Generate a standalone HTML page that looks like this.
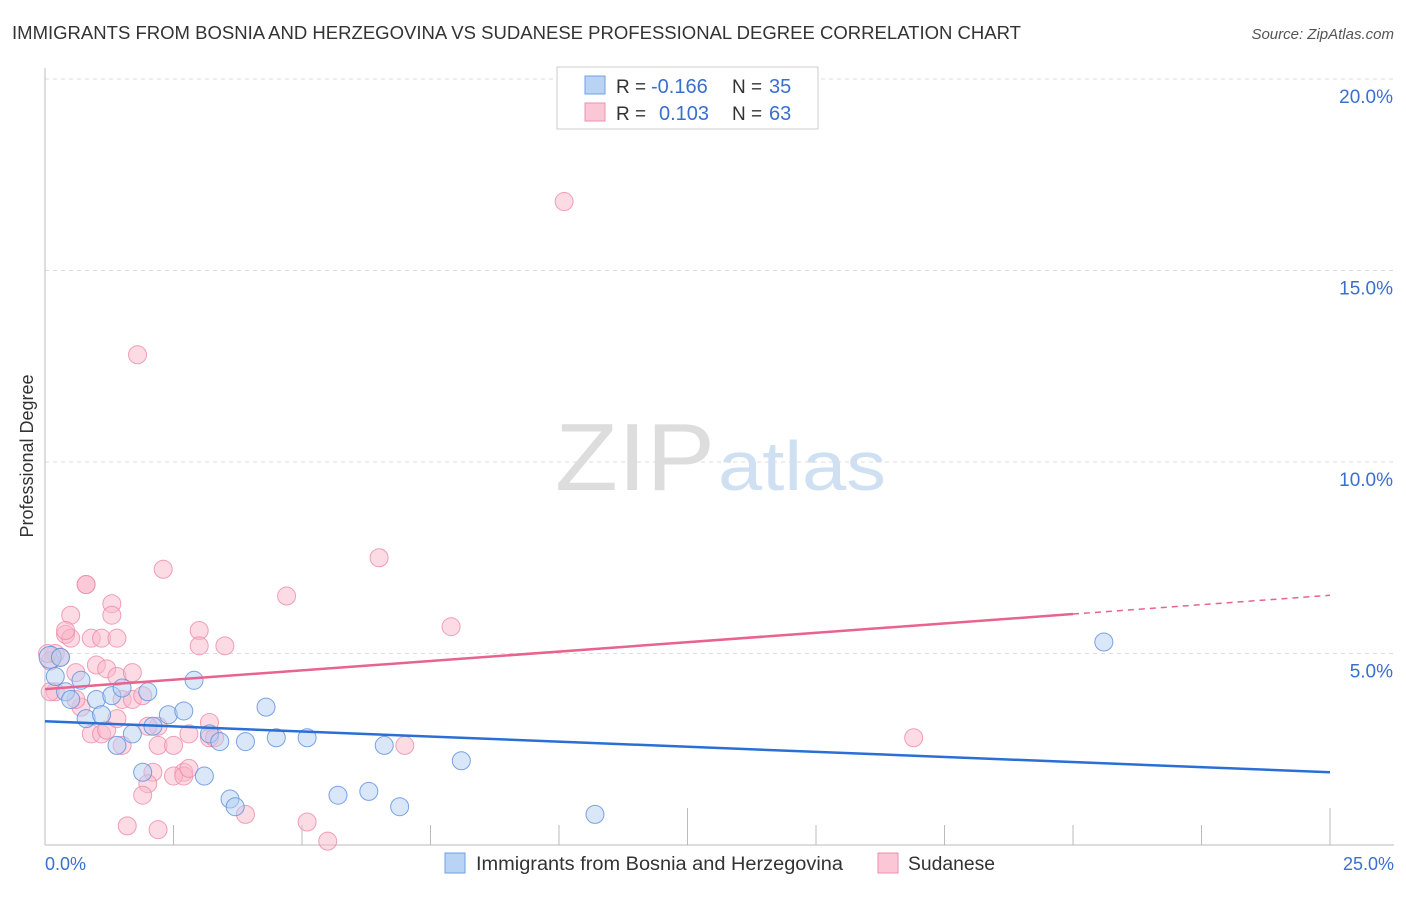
<!DOCTYPE html>
<html><head><meta charset="utf-8"><style>
body{margin:0;background:#fff;font-family:"Liberation Sans",sans-serif;}
svg text{font-family:"Liberation Sans",sans-serif;}
</style></head><body>
<svg width="1406" height="892">
<text x="12" y="39" font-size="18" fill="#333" textLength="1009" lengthAdjust="spacingAndGlyphs">IMMIGRANTS FROM BOSNIA AND HERZEGOVINA VS SUDANESE PROFESSIONAL DEGREE CORRELATION CHART</text>
<text x="1394" y="39" font-size="15" fill="#555" font-style="italic" text-anchor="end">Source: ZipAtlas.com</text>
<text x="555" y="490" font-size="96" fill="#ddd" font-family="Liberation Serif" textLength="160" lengthAdjust="spacingAndGlyphs">ZIP</text>
<text x="718" y="490" font-size="70" fill="#cfe0f3" textLength="168" lengthAdjust="spacingAndGlyphs">atlas</text>
<g id="grid"></g>
<g id="axes"></g>
<g id="pts"></g>
<g id="trend"></g>
<text transform="translate(33,456) rotate(-90)" font-size="18" fill="#333" text-anchor="middle">Professional Degree</text>
<text x="45" y="870" font-size="18" fill="#3a6fd0">0.0%</text>
<text x="1394" y="870" font-size="18" fill="#3a6fd0" text-anchor="end">25.0%</text>
<g>
<rect x="557" y="67" width="261" height="62" fill="#fff" stroke="#ccc"/>
<rect x="585" y="76" width="20" height="18" fill="#b9d3f5" stroke="#6f9fe0"/>
<rect x="585" y="103" width="20" height="18" fill="#fbc6d5" stroke="#ee90ac"/>
<text x="616" y="93" font-size="19" fill="#333">R =</text>
<text x="651" y="93" font-size="20" fill="#3a6fd0">-0.166</text>
<text x="732" y="93" font-size="19" fill="#333">N =</text>
<text x="769" y="93" font-size="20" fill="#3a6fd0">35</text>
<text x="616" y="120" font-size="19" fill="#333">R =</text>
<text x="659" y="120" font-size="20" fill="#3a6fd0">0.103</text>
<text x="732" y="120" font-size="19" fill="#333">N =</text>
<text x="769" y="120" font-size="20" fill="#3a6fd0">63</text>
</g>
<g>
<rect x="445" y="853" width="20" height="20" fill="#b9d3f5" stroke="#6f9fe0"/>
<text x="476" y="870" font-size="19" fill="#333" textLength="367" lengthAdjust="spacingAndGlyphs">Immigrants from Bosnia and Herzegovina</text>
<rect x="878" y="853" width="20" height="20" fill="#fbc6d5" stroke="#ee90ac"/>
<text x="908" y="870" font-size="19" fill="#333" textLength="87" lengthAdjust="spacingAndGlyphs">Sudanese</text>
</g>
</svg>
<script>
const yTicks=[5,10,15,20];
const yTickLabels=["5.0%","10.0%","15.0%","20.0%"];
const xTicks=[0,2.5,5,7.5,10,12.5,15,17.5,20,22.5,25];
const blueX=[0.1,0.2,0.4,0.7,0.5,0.8,1.0,1.1,1.3,1.4,1.5,1.7,2.0,1.9,2.1,2.4,2.7,2.9,3.1,3.2,3.4,3.6,3.7,3.9,4.3,4.5,5.1,5.7,6.3,6.6,6.9,8.1,10.7,20.6,0.3];
const blueY=[4.9,4.4,4.0,4.3,3.8,3.3,3.8,3.4,3.9,2.6,4.1,2.9,4.0,1.9,3.1,3.4,3.5,4.3,1.8,2.9,2.7,1.2,1.0,2.7,3.6,2.8,2.8,1.3,1.4,2.6,1.0,2.2,0.8,5.3,4.9];
const pinkX=[1.8,10.1,6.5,2.3,0.8,0.8,1.3,1.3,0.5,0.4,0.5,0.9,1.1,1.4,3.0,3.0,3.5,4.7,7.9,0.2,0.3,0.1,0.2,0.6,0.7,1.0,1.2,1.4,1.7,1.5,1.7,1.9,0.9,1.1,1.2,1.4,1.5,2.2,2.2,2.5,2.8,3.2,3.2,3.3,2.7,2.5,2.7,2.1,2.0,1.9,1.6,2.2,3.9,5.1,5.5,7.0,16.9,0.6,0.1,0.05,2.0,0.4,2.8];
const pinkY=[12.8,16.8,7.5,7.2,6.8,6.8,6.3,6.0,6.0,5.5,5.4,5.4,5.4,5.4,5.6,5.2,5.2,6.5,5.7,5.0,4.9,4.8,4.0,4.5,3.6,4.7,4.6,4.4,4.5,3.8,3.8,3.9,2.9,2.9,3.0,3.3,2.6,3.1,2.6,2.6,2.9,3.2,2.8,2.8,1.9,1.8,1.8,1.9,1.6,1.3,0.5,0.4,0.8,0.6,0.1,2.6,2.8,3.8,4.0,5.0,3.1,5.6,2.0];
const blueTrend=[3.23,1.90];
const pinkTrend=[4.07,6.52];
const X0=45,X1=1330,Y0=845,YS=38.3;
const sx=v=>X0+(X1-X0)*v/25, sy=v=>Y0-v*YS;
const NS="http://www.w3.org/2000/svg";
function mk(t,a,p){const e=document.createElementNS(NS,t);for(const k in a)e.setAttribute(k,a[k]);document.getElementById(p).appendChild(e);return e;}
yTicks.forEach((v,i)=>{
 const l=mk('line',{x1:X0,x2:1394,y1:sy(v),y2:sy(v),stroke:'#ddd','stroke-dasharray':'4,4'},'grid');
 
 
 const t=mk('text',{x:1393,y:sy(v)+24,'font-size':19,fill:'#3a6fd0','text-anchor':'end'},'grid');
 t.textContent=yTickLabels[i];
 
 
});
let a=mk('line',{x1:X0,x2:X0,y1:68,y2:Y0,stroke:'#bbb'},'axes');


a=mk('line',{x1:X0,x2:1394,y1:Y0,y2:Y0,stroke:'#bbb'},'axes');


xTicks.forEach((v,i)=>{
 const tall=(v===12.5||v===25);
 const t=mk('line',{x1:sx(v),x2:sx(v),y1:tall?808:825,y2:Y0,stroke:'#bbb'},'axes');
 
 
});
function pts(xs,ys,fill,stroke,name){
 xs.forEach((x,i)=>{
  const c=mk('circle',{cx:sx(x),cy:sy(ys[i]),r:(name==='blue-point'&&i===0)?11:9,fill:fill,'fill-opacity':0.5,stroke:stroke,'stroke-opacity':0.8,'stroke-width':1},'pts');
  
  
 });
}
pts(pinkX,pinkY,'#f9b7ca','#ee8aa8','pink-point');
pts(blueX,blueY,'#b3cff3','#5b8fdc','blue-point');
let t=mk('line',{x1:sx(0),y1:sy(blueTrend[0]),x2:sx(25),y2:sy(blueTrend[1]),stroke:'#2a6fd6','stroke-width':2.5},'trend');


const pm=(pinkTrend[1]-pinkTrend[0])/25;
t=mk('line',{x1:sx(0),y1:sy(pinkTrend[0]),x2:sx(20),y2:sy(pinkTrend[0]+pm*20),stroke:'#e8638e','stroke-width':2.5},'trend');


t=mk('line',{x1:sx(20),y1:sy(pinkTrend[0]+pm*20),x2:sx(25),y2:sy(pinkTrend[1]),stroke:'#e8638e','stroke-width':1.5,'stroke-dasharray':'6,5'},'trend');


</script>
</body></html>
